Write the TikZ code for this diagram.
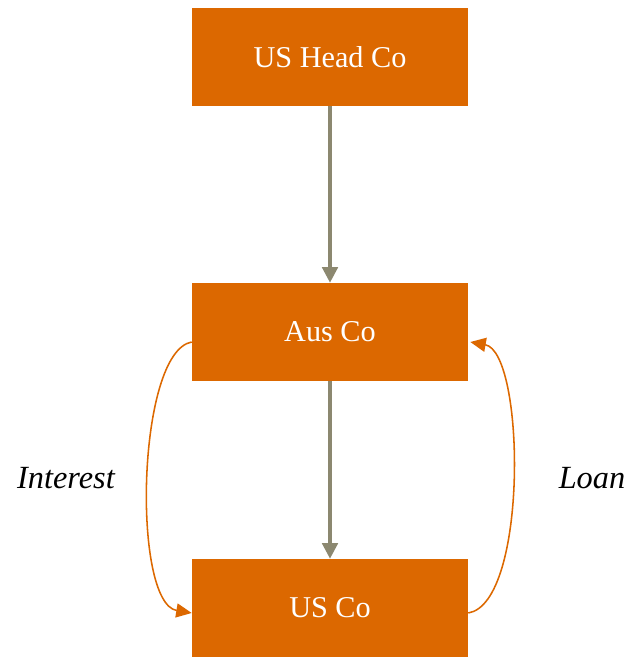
\documentclass[tikz,border=0pt]{standalone}
\usepackage{fontspec}
\setmainfont{Liberation Serif}
\usetikzlibrary{calc}
\usetikzlibrary{arrows.meta}
\usetikzlibrary{positioning}
\definecolor{pwcorange}{RGB}{220,104,0}
\definecolor{linkgrey}{RGB}{140,136,112}
\tikzset{
  entity/.style={fill=pwcorange, text=white, minimum width=6.9cm, minimum height=2.45cm, inner sep=0, font=\fontsize{21.5}{25}\selectfont},
  own/.style={linkgrey, line width=2.2pt, -{Triangle[length=11pt,width=11pt]}},
  flow/.style={pwcorange, line width=1.1pt, -{Triangle[length=11pt,width=10pt]}},
  flowlabel/.style={font=\fontsize{23}{27}\selectfont\itshape}
}

\begin{document}
\begin{tikzpicture}[x=0.025cm,y=-0.025cm]
\useasboundingbox (0,0) rectangle (633,657);
\node[entity] (head) at (330,57) {US Head Co};
\node[entity] (aus) at (330,332) {Aus Co};
\node[entity] (us) at (330,608) {US Co};
\draw[own] (head.south) -- (aus.north);
\draw[own] (aus.south) -- (us.north);
% interest back up to the parent, loan down
\draw[flow] ($(aus.west)+(0,10)$) .. controls +(-55,10) and +(-60,-10) .. ($(us.west)+(0,5)$);
\draw[flow] ($(us.east)+(0,5)$) .. controls +(60,-10) and +(55,10) .. ($(aus.east)+(2,10)$);
\node[flowlabel] (interest) at (66,478) {Interest};
\node[flowlabel] (loan) at (592,478) {Loan};
\end{tikzpicture}
\end{document}
